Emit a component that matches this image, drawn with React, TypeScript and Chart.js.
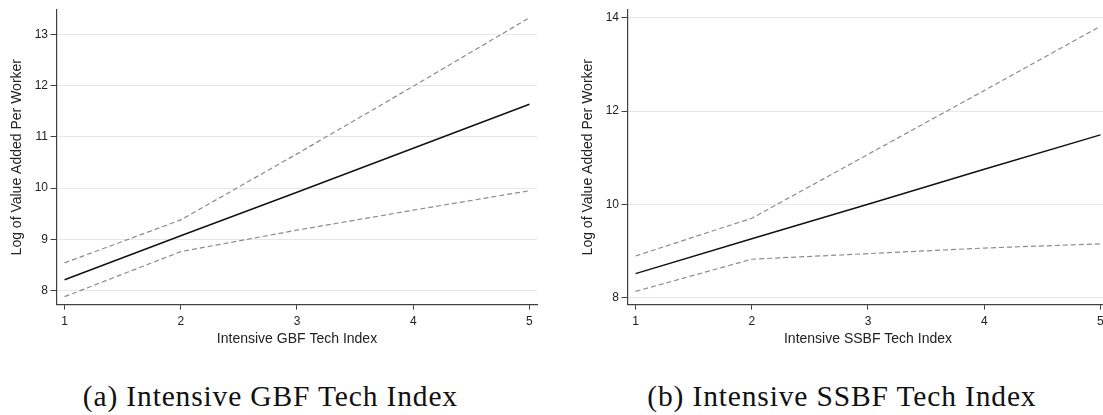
import React, { useEffect, useRef } from "react";
import { Chart, registerables } from "chart.js";

Chart.register(...registerables);

// ---- Data ----
const techIndex = [1, 2, 3, 4, 5];
const xTicks = [1, 2, 3, 4, 5];

// (a) Intensive GBF Tech Index
const gbfFit = [8.21, 9.07, 9.92, 10.78, 11.64];
const gbfUpper = [8.54, 9.38, 10.67, 11.99, 13.33];
const gbfLower = [7.88, 8.76, 9.18, 9.57, 9.95];
const gbfYTicks = [8, 9, 10, 11, 12, 13];

// (b) Intensive SSBF Tech Index
const ssbfFit = [8.51, 9.26, 10.0, 10.75, 11.49];
const ssbfUpper = [8.89, 9.7, 11.07, 12.44, 13.82];
const ssbfLower = [8.13, 8.82, 8.94, 9.06, 9.15];
const ssbfYTicks = [8, 10, 12, 14];

const yTitle = "Log of Value Added Per Worker";

type PanelProps = {
  fit: number[];
  upper: number[];
  lower: number[];
  yTicks: number[];
  yMin: number;
  yMax: number;
  xTitle: string;
};

const FONT = "'Liberation Sans', Arial, Helvetica, sans-serif";
const AXIS = "#404040";

function Panel({ fit, upper, lower, yTicks, yMin, yMax, xTitle }: PanelProps) {
  const ref = useRef<HTMLCanvasElement | null>(null);
  useEffect(() => {
    if (!ref.current) return;
    const pts = (arr: number[]) => techIndex.map((x, i) => ({ x, y: arr[i] }));
    const chart = new Chart(ref.current, {
      type: "line",
      data: {
        datasets: [
          {
            data: pts(upper),
            borderColor: "#8c8c8c",
            borderWidth: 1.2,
            borderDash: [5, 3],
            pointRadius: 0,
            tension: 0,
            fill: false,
          },
          {
            data: pts(lower),
            borderColor: "#8c8c8c",
            borderWidth: 1.2,
            borderDash: [5, 3],
            pointRadius: 0,
            tension: 0,
            fill: false,
          },
          {
            data: pts(fit),
            borderColor: "#111111",
            borderWidth: 1.4,
            pointRadius: 0,
            tension: 0,
            fill: false,
          },
        ],
      },
      options: {
        animation: false,
        responsive: false,
        devicePixelRatio: 1,
        layout: { padding: { top: 5, right: 23, bottom: 0, left: 0 } },
        plugins: {
          legend: { display: false },
          tooltip: { enabled: false },
        },
        scales: {
          x: {
            type: "linear",
            min: 0.935,
            max: 5.065,
            afterBuildTicks: (s: any) => {
              s.ticks = xTicks.map((v) => ({ value: v }));
            },
            afterFit: (s: any) => {
              s.height = 55.3;
            },
            border: { display: true, color: AXIS, width: 1.2 },
            grid: {
              drawOnChartArea: false,
              drawTicks: true,
              tickLength: 5,
              tickColor: AXIS,
              color: AXIS,
            },
            ticks: {
              padding: 4.5,
              color: "#222",
              font: { family: FONT, size: 12 },
              maxRotation: 0,
              autoSkip: false,
            },
            title: {
              display: true,
              text: xTitle,
              color: "#222",
              font: { family: FONT, size: 14 },
              padding: { top: 0, bottom: 12.3 },
            },
          },
          y: {
            type: "linear",
            min: yMin,
            max: yMax,
            afterBuildTicks: (s: any) => {
              s.ticks = yTicks.map((v) => ({ value: v }));
            },
            afterFit: (s: any) => {
              s.width = 57;
            },
            border: { display: true, color: AXIS, width: 1.2 },
            grid: {
              drawOnChartArea: true,
              drawTicks: true,
              tickLength: 6.5,
              tickColor: AXIS,
              color: "#e6e6e6",
              lineWidth: 1,
            },
            ticks: {
              padding: 2.5,
              color: "#222",
              font: { family: FONT, size: 12 },
              autoSkip: false,
            },
            title: {
              display: true,
              text: yTitle,
              color: "#222",
              font: { family: FONT, size: 14 },
              padding: { top: 8.6, bottom: 0 },
            },
          },
        },
      },
    });
    return () => chart.destroy();
  }, []);
  return (
    <canvas
      ref={ref}
      width={560}
      height={360}
      style={{ width: 560, height: 360, display: "block" }}
    />
  );
}

const captionStyle: React.CSSProperties = {
  position: "absolute",
  width: 520,
  textAlign: "center",
  top: 382,
  fontFamily: "'Liberation Serif', 'Times New Roman', serif",
  fontSize: 29.5,
  letterSpacing: "0.85px",
  lineHeight: "29.5px",
  color: "#111",
  whiteSpace: "nowrap",
};

export default function App() {
  return (
    <div
      style={{
        position: "absolute",
        left: 0,
        top: 0,
        width: 1103,
        height: 415,
        overflow: "hidden",
        background: "#fff",
      }}
    >
      <div style={{ position: "absolute", left: 0, top: 0 }}>
        <Panel
          fit={gbfFit}
          upper={gbfUpper}
          lower={gbfLower}
          yTicks={gbfYTicks}
          yMin={7.723}
          yMax={13.487}
          xTitle="Intensive GBF Tech Index"
        />
      </div>
      <div style={{ position: "absolute", left: 571, top: 0 }}>
        <Panel
          fit={ssbfFit}
          upper={ssbfUpper}
          lower={ssbfLower}
          yTicks={ssbfYTicks}
          yMin={7.844}
          yMax={14.175}
          xTitle="Intensive SSBF Tech Index"
        />
      </div>
      <div style={{ ...captionStyle, left: 270 - 260 + 0.4 }}>(a) Intensive GBF Tech Index</div>
      <div style={{ ...captionStyle, left: 841.5 - 260 + 0.4 }}>(b) Intensive SSBF Tech Index</div>
    </div>
  );
}
